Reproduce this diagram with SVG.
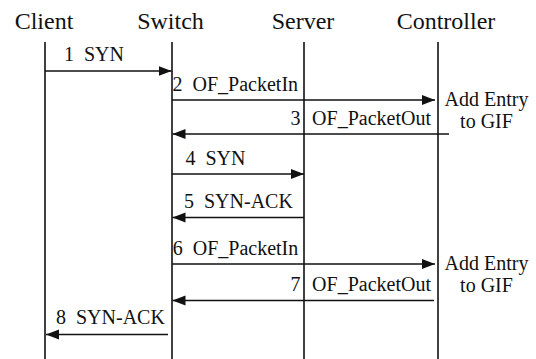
<svg xmlns="http://www.w3.org/2000/svg" width="536" height="359" viewBox="0 0 536 359">
  <style>
    text { font-family: 'Liberation Serif', 'Times New Roman', Times, serif; fill: #111; }
    .title { font-size: 24px; text-anchor: middle; }
    .lbl { font-size: 20px; }
    .note { font-size: 20px; text-anchor: middle; }
    .life { stroke: #111; stroke-width: 1.6; fill: none; }
    .msg { stroke: #111; stroke-width: 1.6; fill: none; marker-end: url(#head); }
  </style>
  <defs>
    <marker id="head" markerUnits="userSpaceOnUse" markerWidth="14" markerHeight="11" refX="13" refY="5" orient="auto">
      <path d="M0,0 L13,5 L0,10 Z" fill="#111"/>
    </marker>
  </defs>
  <rect width="536" height="359" fill="#fff"/>

  <!-- participants and their lifelines -->
  <g id="client">
    <text class="title" x="44" y="29">Client</text>
    <line class="life" x1="45" y1="42" x2="45" y2="359"/>
  </g>
  <g id="switch">
    <text class="title" x="170.5" y="29">Switch</text>
    <line class="life" x1="172" y1="42" x2="172" y2="359"/>
  </g>
  <g id="server">
    <text class="title" x="303" y="29">Server</text>
    <line class="life" x1="304" y1="42" x2="304" y2="359"/>
  </g>
  <g id="controller">
    <text class="title" x="446" y="29">Controller</text>
    <line class="life" x1="438" y1="42" x2="438" y2="359"/>
    <text class="note" x="486.5" y="106">Add Entry</text>
    <text class="note" x="486.5" y="128">to GIF</text>
    <text class="note" x="486.5" y="270">Add Entry</text>
    <text class="note" x="486.5" y="292">to GIF</text>
  </g>

  <!-- messages: number and name are separated by a wider gap -->
  <g id="messages">
    <line class="msg" x1="45" y1="71" x2="171.5" y2="71"/>
    <text class="lbl" x="64" y="61">1<tspan dx="10">SYN</tspan></text>

    <line class="msg" x1="172" y1="100" x2="435" y2="100"/>
    <text class="lbl" x="172.5" y="90.5">2<tspan dx="10">OF_PacketIn</tspan></text>

    <line class="msg" x1="449" y1="134" x2="172.5" y2="134"/>
    <text class="lbl" x="300.5" y="125" text-anchor="end">3</text>
    <text class="lbl" x="431" y="125" text-anchor="end">OF_PacketOut</text>

    <line class="msg" x1="172" y1="174" x2="304" y2="174"/>
    <text class="lbl" x="185.5" y="165">4<tspan dx="10">SYN</tspan></text>

    <line class="msg" x1="304" y1="217.5" x2="172.5" y2="217.5"/>
    <text class="lbl" x="184" y="208">5<tspan dx="10">SYN-ACK</tspan></text>

    <line class="msg" x1="172" y1="264" x2="435" y2="264"/>
    <text class="lbl" x="172.7" y="255">6<tspan dx="10">OF_PacketIn</tspan></text>

    <line class="msg" x1="434" y1="300.5" x2="172.5" y2="300.5"/>
    <text class="lbl" x="300.5" y="291" text-anchor="end">7</text>
    <text class="lbl" x="431" y="291" text-anchor="end">OF_PacketOut</text>

    <line class="msg" x1="168" y1="334.5" x2="46" y2="334.5"/>
    <text class="lbl" x="56" y="324">8<tspan dx="10">SYN-ACK</tspan></text>
  </g>
</svg>
